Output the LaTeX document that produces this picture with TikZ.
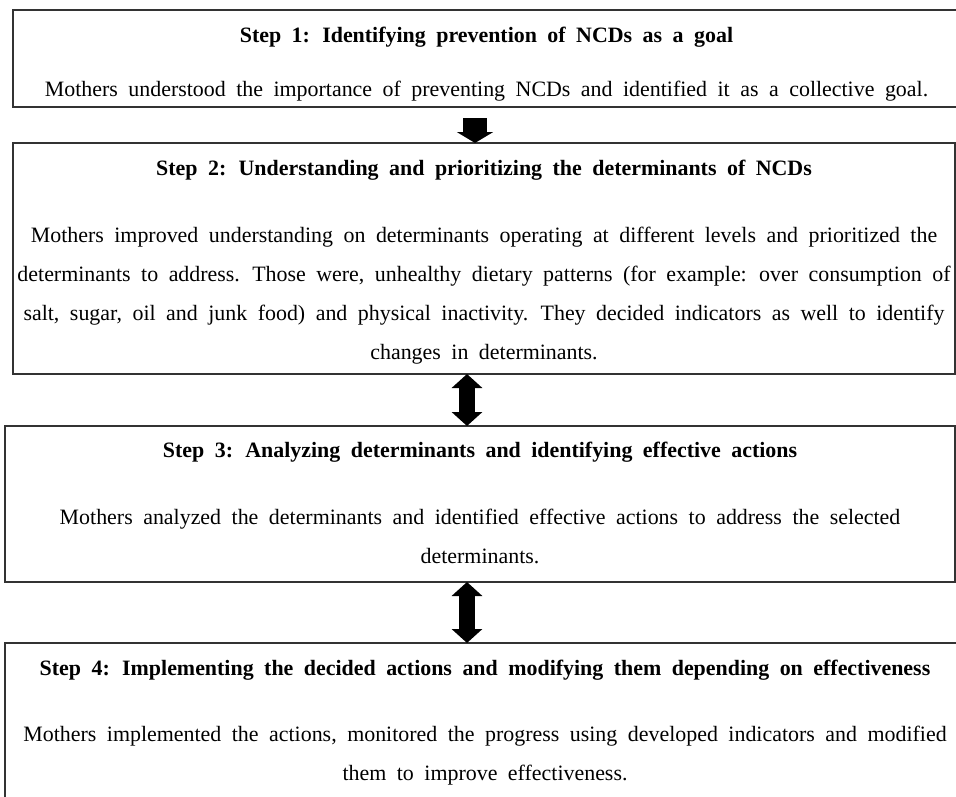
\documentclass[tikz,border=0pt]{standalone}
\usepackage{fontspec}
\setmainfont{Liberation Serif}
\usetikzlibrary{arrows.meta,positioning}
\newcommand\stepfont{\fontsize{22}{39}\selectfont\spaceskip=10.5bp\relax}
\tikzset{
    stepbox/.style={draw=black!80, line width=2bp, anchor=north west, inner sep=0pt, outer sep=0pt},
    steptext/.style={align=center, inner sep=0pt, font=\stepfont},
    downarrow/.style={line width=24bp, -{Triangle[width=36bp,length=11bp]}},
    twoway/.style={line width=16bp, {Triangle[width=30bp,length=14bp]}-{Triangle[width=30bp,length=14bp]}}
}

\begin{document}
\begin{tikzpicture}[x=1bp, y=-1bp]
    \useasboundingbox (0,0) rectangle (956,797);
    % Boxes
    \node[stepbox, minimum width=947bp, minimum height=97bp] (s1) at (13,10) {};
    \node[stepbox, minimum width=942bp, minimum height=231bp] (s2) at (13,143) {};
    \node[stepbox, minimum width=950bp, minimum height=156bp] (s3) at (5,426) {};
    \node[stepbox, minimum width=960bp, minimum height=170bp] (s4) at (5,643) {};

    % Texts
    \node[steptext, below=17bp of s1.north] (t1) {{\bfseries Step 1: Identifying prevention of NCDs as a goal}\\[15bp]
        Mothers understood the importance of preventing NCDs and identified it as a collective goal.};
    \node[steptext, below=17bp of s2.north] (t2) {{\bfseries Step 2: Understanding and prioritizing the determinants of NCDs}\\[28bp]
        Mothers improved understanding on determinants operating at different levels and prioritized the\\
        determinants to address. Those were, unhealthy dietary patterns (for example: over consumption of\\
        salt, sugar, oil and junk food) and physical inactivity. They decided indicators as well to identify\\
        changes in determinants.};
    \node[steptext, below=16bp of s3.north] (t3) {{\bfseries Step 3: Analyzing determinants and identifying effective actions}\\[28bp]
        Mothers analyzed the determinants and identified effective actions to address the selected\\
        determinants.};
    \node[steptext, below=17bp of s4.north] (t4) {{\bfseries Step 4: Implementing the decided actions and modifying them depending on effectiveness}\\[27bp]
        Mothers implemented the actions, monitored the progress using developed indicators and modified\\
        them to improve effectiveness.};

    % arrows
    \coordinate (down) at (475,118);
    \coordinate (mid) at (467,0);
    \draw[downarrow] (down) -- (s2.north -| down);
    \draw[twoway] (s2.south -| mid) -- (s3.north -| mid);
    \draw[twoway] (s3.south -| mid) -- (s4.north -| mid);
\end{tikzpicture}
\end{document}
